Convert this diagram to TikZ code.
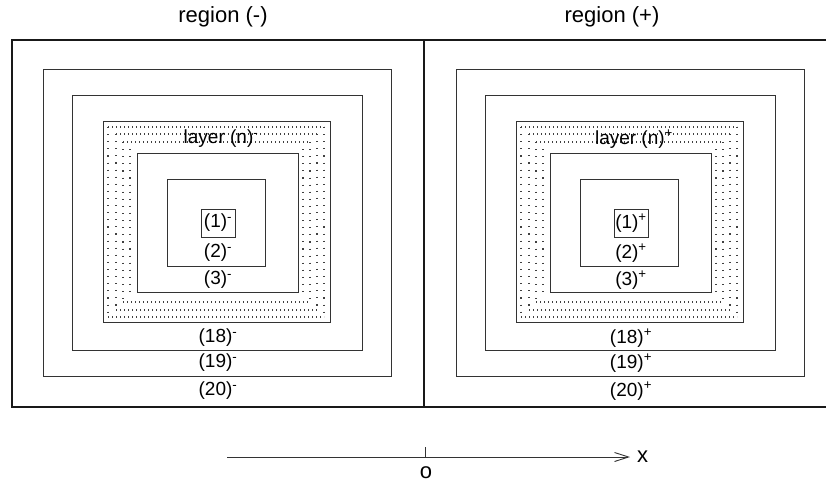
\documentclass[tikz,border=0pt]{standalone}
\usepackage{fontspec}
\setmainfont{Liberation Sans}
\usetikzlibrary{arrows.meta}

\begin{document}
\begin{tikzpicture}[x=1pt,y=-1pt,
  outerline/.style={line width=1.8pt, black!90},
  ring/.style={line width=1pt, black!80},
  hdots/.style={line width=1.1pt, black!75, dash pattern=on 1.1pt off 2.9pt},
  vdots/.style={line width=1.1pt, black!75, dash pattern=on 1.1pt off 6pt},
  lbl/.style={font=\fontsize{19}{21}\selectfont, inner sep=0pt},
  title/.style={font=\fontsize{22}{24}\selectfont, inner sep=0pt},
  axlbl/.style={font=\fontsize{22}{24}\selectfont, inner sep=0pt},
  axisline/.style={line width=0.9pt, black!80}]
\useasboundingbox (0,0) rectangle (826,482);

% the two regions
\draw[outerline] (12,40) rectangle (424,407);
\draw[outerline] (826,40) -- (424,40) -- (424,407) -- (826,407);

\node[title] (tm) at (223,17) {region (-)};
\node[title] (tp) at (612,17) {region (+)};

% nested layers of each region
\foreach \dx/\s/\n in {0/-/m,413/+/p}{
  \begin{scope}[xshift=\dx pt]
    \draw[ring] (43,69) rectangle (391,376);
    \draw[ring] (72,95) rectangle (362,350);
    \draw[ring] (103,121) rectangle (330,322);
    \draw[ring] (137,153) rectangle (298,292);
    \draw[ring] (167,179) rectangle (265,266);
    \draw[ring] (201,209) rectangle (235,237);
    % dotted layer (n)
    \foreach \l/\r/\t/\b in {108/324/127/317,116/317/134/310,123/310/142/302}{
      \draw[hdots] (\l,\t) -- (\r,\t);
      \draw[hdots] (\l,\b) -- (\r,\b);
      \draw[vdots] (\l,\t) -- (\l,\b);
      \draw[vdots] (\r,\t) -- (\r,\b);
    }
    \draw[vdots] (130,149) -- (130,298);
    \draw[vdots] (303,149) -- (303,298);
    \node[lbl] (\n-L) at (221,139) {layer (n)\textsuperscript{\s}};
    \node[lbl] (\n-1) at (218,223) {(1)\textsuperscript{\s}};
    \node[lbl] (\n-2) at (218,253) {(2)\textsuperscript{\s}};
    \node[lbl] (\n-3) at (218,280) {(3)\textsuperscript{\s}};
    \node[lbl] (\n-18) at (218,338) {(18)\textsuperscript{\s}};
    \node[lbl] (\n-19) at (218,363) {(19)\textsuperscript{\s}};
    \node[lbl] (\n-20) at (218,391) {(20)\textsuperscript{\s}};
  \end{scope}
}

% x axis with origin
\coordinate (a0) at (227,457);
\coordinate (a1) at (630,457);
\coordinate (org) at (425,457);
\coordinate (tk) at (425,447);
\draw[axisline,-{Straight Barb[length=14pt,width=9pt]}] (a0) -- (a1);
\draw[axisline] (org) -- (tk);
\node[axlbl] (ox) at (426,473) {o};
\node[axlbl, anchor=west] (xl) at (637,457) {x};
\end{tikzpicture}
\end{document}
